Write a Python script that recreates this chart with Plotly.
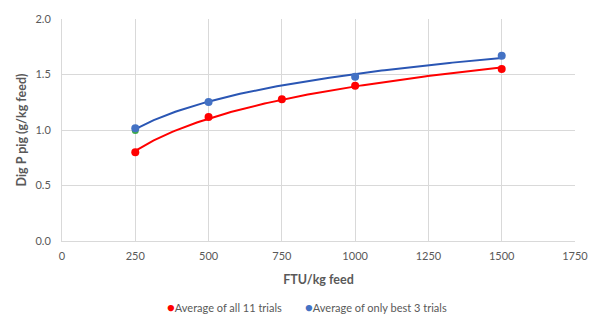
import numpy as np
import plotly.graph_objects as go

# Data
ftu = [250, 500, 750, 1000, 1500]
avg_all = [0.80, 1.116, 1.278, 1.398, 1.55]
ftu_best = [250, 500, 1000, 1500]
avg_best = [1.016, 1.252, 1.48, 1.67]
ftu_extra = [250]
extra_val = [0.996]

x_ticks = [0, 250, 500, 750, 1000, 1250, 1500, 1750]
y_ticks = [0.0, 0.5, 1.0, 1.5, 2.0]
series_names = ["Average of all 11 trials", "Average of only best 3 trials"]

RED = "#FF0000"
BLUE_M = "#4472C4"
BLUE_L = "#2A56B4"
GREEN = "#3DAA4A"
FONT = "Lato, sans-serif"
TXT = "#595959"

PLOT_L, PLOT_R, PLOT_T, PLOT_B = 62, 576, 12, 241


def log_trend(xs, ys, n=120):
    a, b = np.polyfit(np.log(xs), ys, 1)
    xx = np.linspace(min(xs), max(xs), n)
    return xx, a * np.log(xx) + b


fig = go.Figure()

tx, ty = log_trend(ftu, avg_all)
fig.add_trace(go.Scatter(x=tx, y=ty, mode="lines", line=dict(color=RED, width=2),
                         showlegend=False, hoverinfo="skip"))
bx, by = log_trend(ftu_best, avg_best)
fig.add_trace(go.Scatter(x=bx, y=by, mode="lines", line=dict(color=BLUE_L, width=2),
                         showlegend=False, hoverinfo="skip"))

fig.add_trace(go.Scatter(x=ftu_extra, y=extra_val, mode="markers",
                         marker=dict(color=GREEN, size=7), showlegend=False))
fig.add_trace(go.Scatter(x=ftu, y=avg_all, mode="markers", name=series_names[0],
                         marker=dict(color=RED, size=8), showlegend=False))
fig.add_trace(go.Scatter(x=ftu_best, y=avg_best, mode="markers", name=series_names[1],
                         marker=dict(color=BLUE_M, size=8), showlegend=False))


def px_x(p):
    return (p - PLOT_L) / (PLOT_R - PLOT_L)


def px_y(p):
    return (PLOT_B - p) / (PLOT_B - PLOT_T)


legend_items = [(series_names[0], RED, 165), (series_names[1], BLUE_M, 303)]
for name, col, xpos in legend_items:
    fig.add_annotation(
        xref="paper", yref="paper", x=px_x(xpos), y=px_y(309),
        xanchor="left", yanchor="middle", showarrow=False,
        text=f"<span style='color:{col};font-size:13px'>●</span>{name}",
        font=dict(family=FONT, size=11, color=TXT),
    )

fig.update_layout(
    width=600, height=329,
    margin=dict(l=PLOT_L, r=600 - PLOT_R, t=PLOT_T, b=329 - PLOT_B),
    paper_bgcolor="white", plot_bgcolor="white",
    font=dict(family=FONT, size=11, color=TXT),
    showlegend=False,
)
fig.update_xaxes(range=[0, 1750], tickvals=x_ticks, ticktext=[str(v) for v in x_ticks],
                 showgrid=True, gridcolor="#D9D9D9", gridwidth=1,
                 zeroline=False, showline=True, linecolor="#D9D9D9",
                 ticks="outside", ticklen=5, tickcolor="rgba(0,0,0,0)",
                 tickfont=dict(size=11, color=TXT),
                 title=dict(text="<b>FTU/kg feed</b>", font=dict(size=12.5, color=TXT),
                            standoff=14))
fig.update_yaxes(range=[0, 2.0], tickvals=y_ticks, ticktext=[f"{v:.1f}" for v in y_ticks],
                 showgrid=True, gridcolor="#D9D9D9", gridwidth=1,
                 zeroline=False, showline=True, linecolor="#D9D9D9",
                 ticks="outside", ticklen=8, tickcolor="rgba(0,0,0,0)",
                 tickfont=dict(size=11, color=TXT),
                 title=dict(text="<b>Dig P pig (g/kg feed)</b>",
                            font=dict(size=12.5, color=TXT), standoff=6))

fig.write_html("out.html")
